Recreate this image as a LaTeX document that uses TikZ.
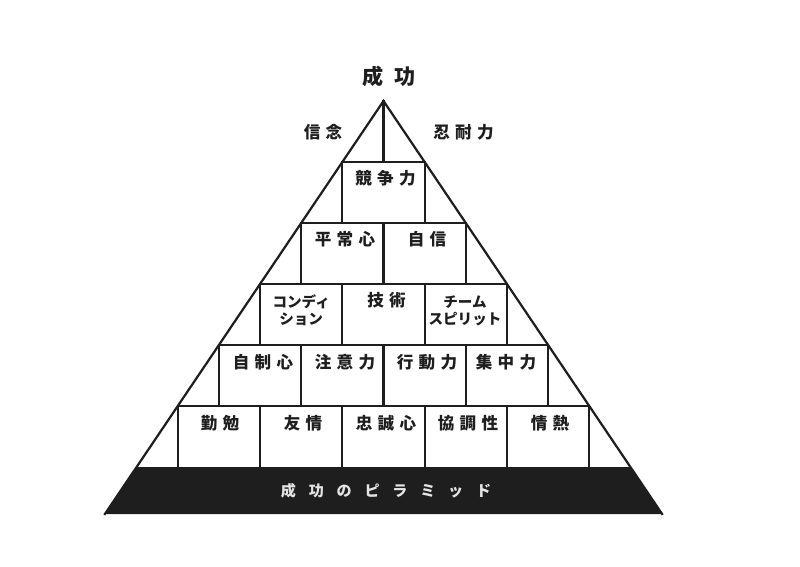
\documentclass[tikz,border=0pt]{standalone}
\usepackage{fontspec}
\newfontfamily\jp{Noto Sans CJK JP}
\definecolor{ink}{HTML}{1E1E1E}
\definecolor{bandtext}{HTML}{E4E4E4}

\begin{document}
\begin{tikzpicture}[scale=0.35]
            \tikzstyle{every node}+=[inner sep=0pt]
            \tikzstyle{grid}=[ink, line width=2.2pt, line cap=rect]
            \tikzstyle{kanji}=[text=ink, font=\jp\bfseries\fontsize{16.5}{19}\selectfont\addfontfeature{LetterSpace=32}]
            \tikzstyle{kana}=[text=ink, align=center, font=\jp\bfseries\fontsize{14.5}{17}\selectfont]
            \useasboundingbox (0,0) rectangle (80,-56.7);
            % base band and sides
            \fill [ink] (13.66,-46.7) -- (63.04,-46.7) -- (66.21,-51.4) -- (10.49,-51.4) -- cycle;
            \draw [grid, line join=miter] (10.49,-51.4) -- (38.35,-10.1) -- (66.21,-51.4);
            % rows of boxes
            \draw [grid] (38.35,-10.1) -- (38.35,-16.2);
            \draw [grid] (34.235,-16.2) -- (42.465,-16.2) (34.235,-16.2) -- (34.235,-22.3) (42.465,-16.2) -- (42.465,-22.3);
            \draw [grid] (30.12,-22.3) -- (46.58,-22.3) (30.12,-22.3) -- (30.12,-28.4) (38.35,-22.3) -- (38.35,-28.4) (46.58,-22.3) -- (46.58,-28.4);
            \draw [grid] (26.005,-28.4) -- (50.695,-28.4) (26.005,-28.4) -- (26.005,-34.5) (34.235,-28.4) -- (34.235,-34.5) (42.465,-28.4) -- (42.465,-34.5) (50.695,-28.4) -- (50.695,-34.5);
            \draw [grid] (21.89,-34.5) -- (54.81,-34.5) (21.89,-34.5) -- (21.89,-40.6) (30.12,-34.5) -- (30.12,-40.6) (38.35,-34.5) -- (38.35,-40.6) (46.58,-34.5) -- (46.58,-40.6) (54.81,-34.5) -- (54.81,-40.6);
            \draw [grid] (17.775,-40.6) -- (58.925,-40.6) (17.775,-40.6) -- (17.775,-46.7) (26.005,-40.6) -- (26.005,-46.7) (34.235,-40.6) -- (34.235,-46.7) (42.465,-40.6) -- (42.465,-46.7) (50.695,-40.6) -- (50.695,-46.7) (58.925,-40.6) -- (58.925,-46.7);
            % labels
            \node [text=ink, font=\jp\bfseries\fontsize{21}{24}\selectfont\addfontfeature{LetterSpace=55}] (seiko) at (38.9,-7.65) {成功};
            \node [kanji] (shinnen) at (32.3,-13.2) {信念};
            \node [kanji] (nintai) at (46.35,-13.2) {忍耐力};
            \node [kanji] (kyoso) at (38.55,-17.85) {競争力};
            \node [kanji] (heijo) at (34.5,-23.95) {平常心};
            \node [kanji] (jishin) at (42.7,-23.95) {自信};
            \node [kana] (condition) at (30.12,-31.05) {コンディ\\ション};
            \node [kanji] (gijutsu) at (38.65,-30.0) {技術};
            \node [kana] (team) at (46.5,-31.05) {チーム\\スピリット};
            \node [kanji] (jisei) at (26.3,-36.2) {自制心};
            \node [kanji] (chui) at (34.5,-36.2) {注意力};
            \node [kanji] (kodo) at (42.7,-36.2) {行動力};
            \node [kanji] (shuchu) at (50.6,-36.2) {集中力};
            \node [kanji] (kinben) at (22.0,-42.3) {勤勉};
            \node [kanji] (yujo) at (30.3,-42.3) {友情};
            \node [kanji] (chusei) at (38.6,-42.3) {忠誠心};
            \node [kanji] (kyocho) at (46.8,-42.3) {協調性};
            \node [kanji] (jonetsu) at (55.0,-42.3) {情熱};
            \node [text=bandtext, font=\jp\bfseries\fontsize{15}{18}\selectfont\addfontfeature{LetterSpace=85}] (pyramid) at (38.6,-49.05) {成功のピラミッド};
        \end{tikzpicture}
\end{document}
